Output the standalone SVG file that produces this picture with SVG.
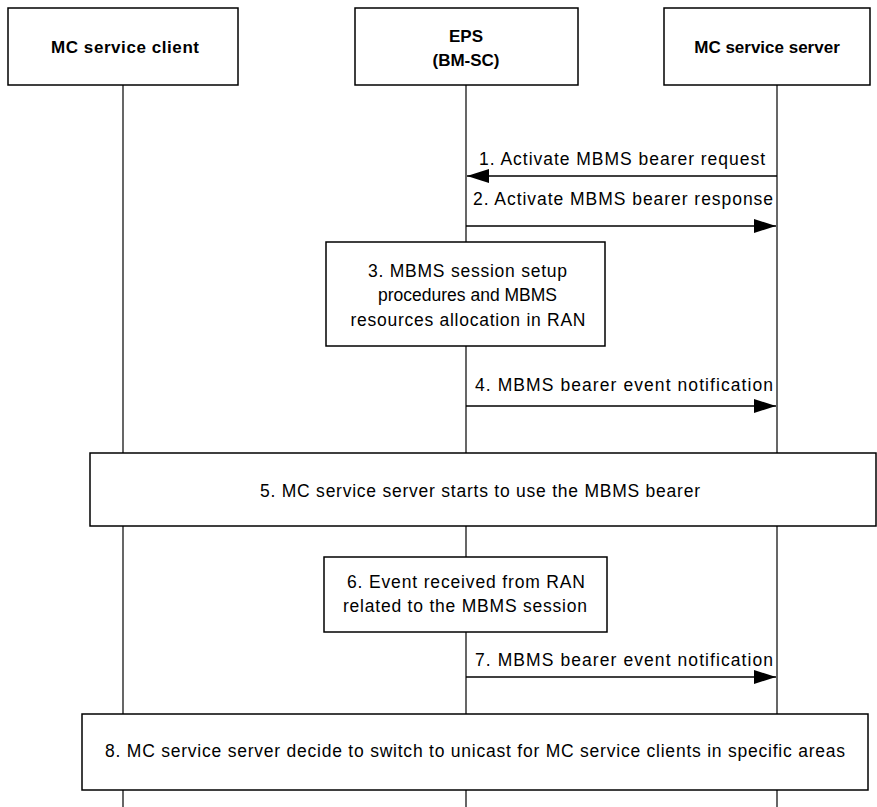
<svg xmlns="http://www.w3.org/2000/svg" width="877" height="807" viewBox="0 0 877 807">
<style>
.box{fill:#fff;stroke:#000;stroke-width:1.5}
.life{stroke:#000;stroke-width:1.2;fill:none}
.msg{stroke:#000;stroke-width:1.5;fill:none}
text{font-family:"Liberation Sans",Arial,sans-serif;font-size:17.5px;fill:#000;text-anchor:middle}
.b{font-weight:bold;font-size:17px}
</style>
<defs>
<marker id="ah" viewBox="0 0 22 14" refX="22" refY="7" markerWidth="22" markerHeight="14" markerUnits="userSpaceOnUse" orient="auto">
<path d="M0,0 L22,7 L0,14 Z" fill="#000"/>
</marker>
</defs>
<g id="lifelines">
<line class="life" x1="123" y1="85" x2="123" y2="807"/>
<line class="life" x1="466" y1="85" x2="466" y2="807"/>
<line class="life" x1="777" y1="85" x2="777" y2="807"/>
</g>
<g id="client"><rect class="box" x="8" y="8" width="230" height="77"/><text class="b" x="125" y="53" textLength="148" lengthAdjust="spacing">MC service client</text></g>
<g id="eps"><rect class="box" x="355" y="8" width="223" height="77"/><text class="b" x="466" y="42">EPS</text><text class="b" x="466" y="66">(BM-SC)</text></g>
<g id="server"><rect class="box" x="664" y="8" width="206" height="77"/><text class="b" x="767" y="53">MC service server</text></g>
<g id="connectors">
<line class="msg" x1="777" y1="176" x2="467" y2="176" marker-end="url(#ah)"/>
<text x="622" y="165" textLength="286" lengthAdjust="spacing">1. Activate MBMS bearer request</text>
<line class="msg" x1="466" y1="226" x2="776" y2="226" marker-end="url(#ah)"/>
<text x="623" y="205" textLength="300" lengthAdjust="spacing">2. Activate MBMS bearer response</text>
<line class="msg" x1="466" y1="406" x2="776" y2="406" marker-end="url(#ah)"/>
<text x="624" y="391" textLength="298" lengthAdjust="spacing">4. MBMS bearer event notification</text>
<line class="msg" x1="466" y1="677" x2="776" y2="677" marker-end="url(#ah)"/>
<text x="624" y="666" textLength="298" lengthAdjust="spacing">7. MBMS bearer event notification</text>
</g>
<g id="step3"><rect class="box" x="326" y="242" width="279" height="104"/>
<text x="467.5" y="277" textLength="199" lengthAdjust="spacing">3. MBMS session setup</text><text x="467.5" y="301">procedures and MBMS</text><text x="468" y="326" textLength="235" lengthAdjust="spacing">resources allocation in RAN</text></g>
<g id="step5"><rect class="box" x="90" y="453" width="786" height="73"/><text x="480" y="497" textLength="440" lengthAdjust="spacing">5. MC service server starts to use the MBMS bearer</text></g>
<g id="step6"><rect class="box" x="324" y="557" width="283" height="75"/><text x="466" y="588" textLength="238" lengthAdjust="spacing">6. Event received from RAN</text><text x="465" y="612" textLength="244" lengthAdjust="spacing">related to the MBMS session</text></g>
<g id="step8"><rect class="box" x="82" y="714" width="786" height="76"/><text x="475" y="757" textLength="740" lengthAdjust="spacing">8. MC service server decide to switch to unicast for MC service clients in specific areas</text></g>
</svg>
